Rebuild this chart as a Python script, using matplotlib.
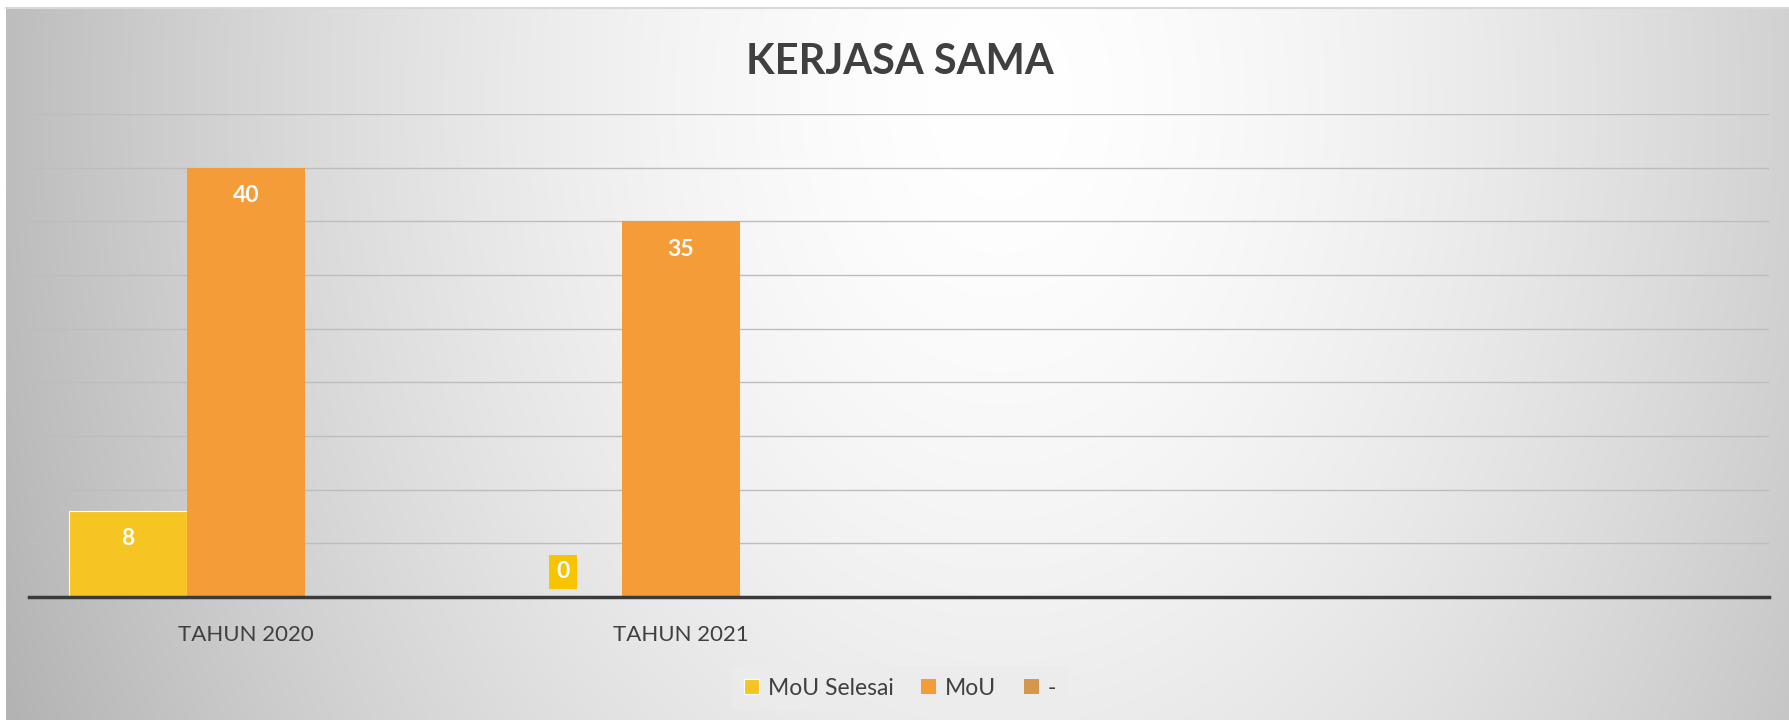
import matplotlib.pyplot as plt
import numpy as np

# data
categories = ["TAHUN 2020", "TAHUN 2021", "", ""]
series_names = ["MoU Selesai", "MoU", "-"]
mou_selesai = [8, 0, np.nan, np.nan]
mou = [40, 35, np.nan, np.nan]
dash = [np.nan, np.nan, np.nan, np.nan]
colors = ["#F6C523", "#F39C38", "#D4974B"]

plt.rcParams['font.family'] = ['Lato', 'DejaVu Sans']

W, H = 1789, 720
fig = plt.figure(figsize=(W / 100, H / 100), dpi=100)

# background: soft radial gradient like an Excel chart style
bg = fig.add_axes([0, 0, 1, 1])
yy, xx = np.mgrid[0:H, 0:W]
r = np.sqrt(((xx - 1000) / 950.0) ** 2 + ((yy - 100) / 1300.0) ** 2)
g = 1.0 - 0.24 * np.clip(r, 0, 1.2) ** 1.6
g[:8, :] = 1.0
g[:, :6] = 1.0
img = np.dstack([g, g, g])
bg.imshow(img, aspect='auto', extent=[0, 1, 0, 1])
bg.axis('off')
bg.plot([6 / W, 1], [1 - 8 / H, 1 - 8 / H], color='#d8d8d8', lw=1.5)

ax = fig.add_axes([28.5 / W, 123 / H, 1740 / W, 483 / H])
ax.set_facecolor('none')

x = np.arange(len(categories))
w = 0.2713
series = [mou_selesai, mou, dash]
for i, (vals, name, c) in enumerate(zip(series, series_names, colors)):
    ec = 'white' if i == 0 else c
    ax.bar(x + (i - 1) * w, vals, w, color=c, label=name,
           edgecolor=ec, linewidth=0.8 if i == 0 else 0, zorder=3)

# data labels
for vals, c in zip([mou_selesai, mou], colors[:2]):
    for i, v in enumerate(vals):
        if np.isnan(v):
            continue
        xpos = x[i] + (-1 if c == colors[0] else 0) * w
        if v > 0:
            ax.annotate(f"{v:g}", (xpos, v), xytext=(0, -20), textcoords='offset points',
                        ha='center', va='center', color='white', fontsize=16.5,
                        fontweight='bold', zorder=5)
        else:
            ax.annotate(f"{v:g}", (xpos, v), xytext=(0, 18), textcoords='offset points',
                        ha='center', va='center', color='white', fontsize=16.5,
                        fontweight='bold', zorder=5,
                        bbox=dict(boxstyle='square,pad=0.3', fc='#F8C300', ec='none'))

ax.set_xlim(-0.5, 3.5)
ax.set_ylim(0, 45)
ax.set_yticks(np.arange(0, 46, 5))
ax.yaxis.grid(True, color='#bdbdbd', lw=1, zorder=0)
ax.tick_params(axis='y', left=False, labelleft=False)
ax.set_xticks(x)
ax.set_xticklabels(categories, fontsize=16, color='#404040')
ax.tick_params(axis='x', length=0, pad=20)
for s in ['top', 'right', 'left']:
    ax.spines[s].set_visible(False)
ax.spines['bottom'].set_color('#3a3a3a')
ax.spines['bottom'].set_linewidth(2.5)
ax.spines['bottom'].set_zorder(4)

fig.text(0.503, 0.914, "KERJASA SAMA", ha='center', va='center',
         fontsize=30, fontweight='bold', color='#404040')

leg = fig.legend(loc='center', bbox_to_anchor=(0.503, 0.044), ncol=3,
                 fontsize=16.5, frameon=True, handlelength=0.65, handleheight=0.65,
                 handletextpad=0.4, columnspacing=1.2, borderpad=0.5)
leg.get_frame().set_facecolor('#ececec')
leg.get_frame().set_edgecolor('none')
leg.get_frame().set_alpha(0.7)
for t in leg.get_texts():
    t.set_color('#404040')

fig.savefig("out.png", dpi=100)
